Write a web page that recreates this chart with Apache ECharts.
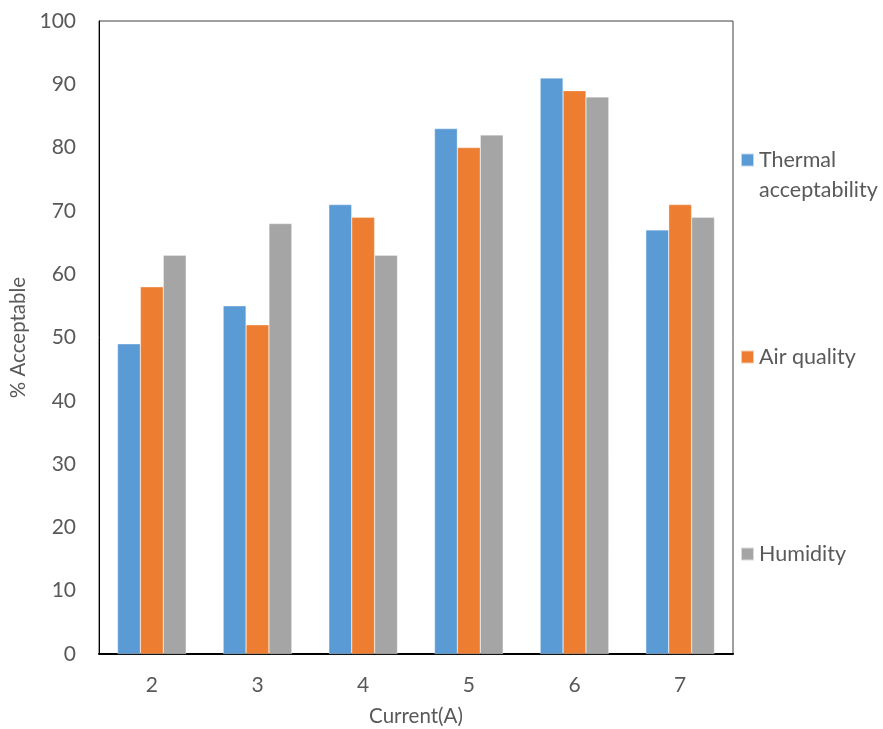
<!DOCTYPE html>
<html>
<head>
<meta charset="utf-8">
<script src="https://cdn.jsdelivr.net/npm/echarts@6/dist/echarts.min.js"></script>
<style>
  html, body { margin: 0; padding: 0; background: #fff; }
  #chart { width: 883px; height: 729px; }
</style>
</head>
<body>
<div id="chart"></div>
<script>
// Current levels on the x axis
const categories = ['2', '3', '4', '5', '6', '7'];
// Percentage of acceptable votes per current level
const thermalAcceptability = [49, 55, 71, 83, 91, 67];
const airQuality = [58, 52, 69, 80, 89, 71];
const humidity = [63, 68, 63, 82, 88, 69];
const seriesNames = ['Thermal acceptability', 'Air quality', 'Humidity'];
const yTicks = { min: 0, max: 100, interval: 10 };

const FONT = 'Lato, "Open Sans", sans-serif';
const TXT = '#595959';
const colors = ['#5B9BD5', '#ED7D31', '#A5A5A5'];

const chart = echarts.init(document.getElementById('chart'), null, { renderer: 'canvas' });

// One legend block per series, placed down the right-hand side
function legendFor(name, centerY, twoLines) {
  const lh = 30;
  return {
    data: [name],
    orient: 'vertical',
    left: 740,
    top: twoLines ? centerY - 45 : centerY - lh / 2,
    padding: 0,
    itemWidth: 13,
    itemHeight: 13,
    icon: 'rect',
    selectedMode: false,
    // leading empty line keeps "Thermal" level with the swatch
    formatter: twoLines ? '\nThermal\nacceptability' : '{name}',
    textStyle: {
      fontFamily: FONT,
      fontSize: 21.5,
      color: TXT,
      lineHeight: lh
    }
  };
}

const seriesData = [thermalAcceptability, airQuality, humidity];

chart.setOption({
  backgroundColor: '#fff',
  animation: false,
  color: colors,
  grid: {
    left: 99, top: 21, right: 150, bottom: 75,
    outerBoundsMode: 'none',
    containLabel: false,
    show: true, borderColor: '#404040', borderWidth: 1
  },
  legend: [
    legendFor(seriesNames[0], 160, true),
    legendFor(seriesNames[1], 357, false),
    legendFor(seriesNames[2], 554, false)
  ],
  xAxis: {
    type: 'category',
    data: categories,
    name: 'Current(A)',
    nameLocation: 'middle',
    nameGap: 52,
    nameTextStyle: { fontFamily: FONT, fontSize: 20.5, color: TXT },
    axisLine: { lineStyle: { color: '#000', width: 2 } },
    axisTick: { show: false },
    axisLabel: { fontFamily: FONT, fontSize: 21, color: TXT, margin: 21 }
  },
  yAxis: {
    type: 'value',
    min: yTicks.min, max: yTicks.max, interval: yTicks.interval,
    name: '% Acceptable',
    nameLocation: 'middle',
    nameGap: 66,
    nameTextStyle: { fontFamily: FONT, fontSize: 20.5, color: TXT },
    axisLine: { show: true, lineStyle: { color: '#000', width: 1 } },
    axisTick: { show: false },
    splitLine: { show: false },
    axisLabel: { fontFamily: FONT, fontSize: 21, color: TXT, margin: 23 }
  },
  series: seriesData.map((d, i) => ({
    name: seriesNames[i],
    type: 'bar',
    data: d,
    barGap: '0%',
    barCategoryGap: '35%',
    itemStyle: { borderColor: 'rgba(255,255,255,0.6)', borderWidth: 0.5 }
  }))
});
</script>
</body>
</html>
